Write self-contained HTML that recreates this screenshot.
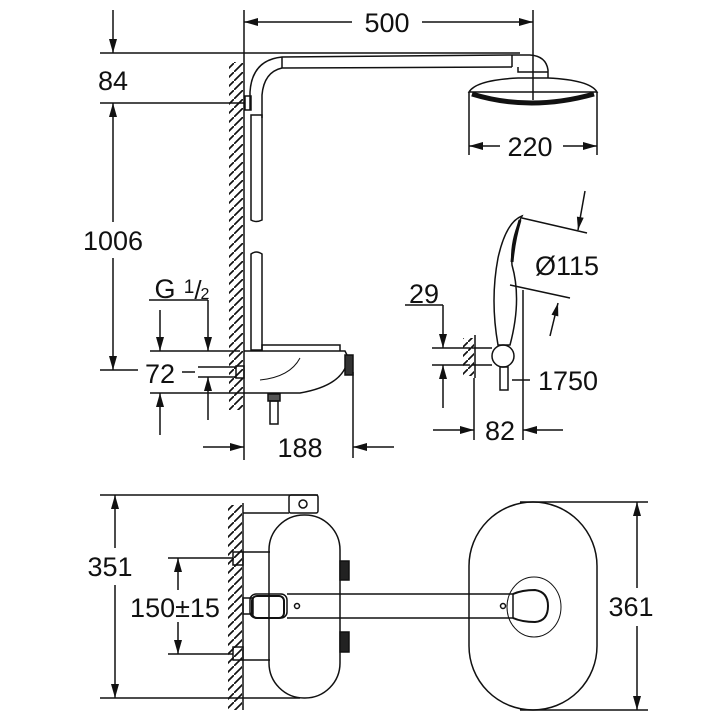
<!DOCTYPE html>
<html><head><meta charset="utf-8"><style>
html,body{margin:0;padding:0;background:#fff;width:720px;height:720px;overflow:hidden}
text{font-family:"Liberation Sans",sans-serif;fill:#111}
</style></head><body>
<svg width="720" height="720" viewBox="0 0 720 720" xmlns="http://www.w3.org/2000/svg">
<defs>
<pattern id="h" width="9" height="9" patternUnits="userSpaceOnUse"><path d="M-2,11 L11,-2" stroke="#111" stroke-width="1.7"/></pattern>
</defs>
<g stroke="#111" stroke-width="1.5" fill="none">
<!-- top wall -->
<line x1="244" y1="10" x2="244" y2="460"/>
<rect x="229" y="62" width="14" height="348" fill="url(#h)" stroke="none"/>
<!-- 500 -->
<line x1="244" y1="22" x2="352" y2="22"/>
<line x1="422" y1="22" x2="533" y2="22"/>
<line x1="533" y1="10" x2="533" y2="100"/>
<!-- 84 / 1006 -->
<line x1="100" y1="53" x2="520" y2="53"/>
<line x1="100" y1="103" x2="244" y2="103"/>
<line x1="113" y1="10" x2="113" y2="53"/>
<line x1="113" y1="103" x2="113" y2="222"/>
<line x1="113" y1="258" x2="113" y2="370"/>
<line x1="100" y1="370" x2="138" y2="370"/>
<!-- riser & arm -->
<path d="M250,110 L250,92 Q252,60 282,57 L512,55 L530,55 Q546,56 548,70 L548,78 M262,118 L262,95 Q264,72 282,68 L512,67"/>
<line x1="282" y1="57" x2="282" y2="68"/>
<line x1="512" y1="55" x2="512" y2="67"/>
<path d="M518,67 L518,72 L548,72"/>
<rect x="245" y="96" width="6" height="14"/>
<path d="M251,115 L251,220 Q256,223 262,220 L262,115 Z"/>
<path d="M251,254 Q256,250 262,254 L262,350 L251,350 Z"/>
<!-- head -->
<path d="M518,78 L548,78 Q590,80 597,92 L469,92 Q476,80 518,78 Z"/>
<path d="M472,94 Q530,112 594,94" stroke-width="5"/>
<line x1="469" y1="92" x2="469" y2="155"/>
<line x1="597" y1="92" x2="597" y2="155"/>
<line x1="469" y1="146" x2="500" y2="146"/>
<line x1="563" y1="146" x2="597" y2="146"/>
<!-- thermostat top -->
<path d="M244,351 L345,351 L348,357 Q346,385 300,393 L244,393"/>
<path d="M262,351 L262,345 L340,345 L340,351"/>
<path d="M300,358 Q290,377 260,380" stroke-width="1"/>
<rect x="345" y="355" width="8" height="20" fill="#333"/>
<rect x="236" y="366" width="8" height="12"/>
<line x1="198" y1="367" x2="236" y2="367"/><line x1="198" y1="377" x2="236" y2="377"/>
<rect x="268" y="394" width="12" height="7" fill="#555"/>
<rect x="270" y="401" width="8" height="23"/>
<!-- G1/2 & 72 -->
<line x1="149" y1="300" x2="208" y2="300"/>
<line x1="208" y1="300" x2="208" y2="351"/>
<line x1="150" y1="351" x2="240" y2="351"/>
<line x1="150" y1="393" x2="244" y2="393"/>
<line x1="160" y1="310" x2="160" y2="351"/>
<line x1="160" y1="435" x2="160" y2="393"/>
<line x1="208" y1="420" x2="208" y2="377"/>
<line x1="182" y1="372" x2="195" y2="372"/>
<!-- 188 -->
<line x1="353" y1="372" x2="353" y2="458"/>
<line x1="203" y1="447" x2="244" y2="447"/>
<line x1="394" y1="447" x2="353" y2="447"/>
<!-- hand shower -->
<path d="M498,345 Q490,300 498,258 Q506,222 522,216 Q510,240 512,265 Q522,300 510,345 Z"/>
<path d="M520,220 Q514,240 512,262" stroke-width="3"/>
<circle cx="503" cy="356" r="11"/>
<rect x="500" y="367" width="8" height="23"/>
<line x1="472" y1="348" x2="492" y2="348"/><line x1="472" y1="365" x2="492" y2="365"/>
<line x1="475" y1="335" x2="475" y2="378"/>
<rect x="463" y="338" width="11" height="38" fill="url(#h)" stroke="none"/>
<line x1="522" y1="218" x2="587" y2="233"/>
<line x1="510" y1="285" x2="570" y2="298"/>
<line x1="585" y1="191" x2="578" y2="230"/>
<line x1="550" y1="336" x2="558" y2="303"/>
<line x1="405" y1="305" x2="443" y2="305"/>
<line x1="443" y1="305" x2="443" y2="348"/>
<line x1="432" y1="348" x2="470" y2="348"/><line x1="432" y1="365" x2="470" y2="365"/>
<line x1="443" y1="408" x2="443" y2="365"/>
<line x1="512" y1="380" x2="530" y2="380"/>
<line x1="523" y1="290" x2="523" y2="440"/>
<line x1="474" y1="378" x2="474" y2="440"/>
<line x1="433" y1="430" x2="474" y2="430"/>
<line x1="563" y1="430" x2="523" y2="430"/>
<!-- bottom view -->
<line x1="243" y1="503" x2="243" y2="710"/>
<rect x="228" y="505" width="14" height="205" fill="url(#h)" stroke="none"/>
<line x1="100" y1="495" x2="318" y2="495"/>
<line x1="100" y1="698" x2="300" y2="698"/>
<line x1="115" y1="495" x2="115" y2="548"/>
<line x1="115" y1="585" x2="115" y2="698"/>
<line x1="243" y1="513" x2="289" y2="513"/>
<rect x="289" y="495" width="29" height="18" rx="2"/>
<circle cx="303" cy="504" r="4"/>
<rect x="269" y="515" width="71" height="183" rx="35"/>
<rect x="340" y="561" width="9" height="19" fill="#222"/>
<rect x="340" y="632" width="9" height="20" fill="#222"/>
<rect x="233" y="552" width="10" height="13"/><rect x="233" y="647" width="10" height="13"/>
<line x1="243" y1="552" x2="270" y2="552"/><line x1="243" y1="660" x2="270" y2="660"/>
<line x1="168" y1="558" x2="233" y2="558"/><line x1="168" y1="654" x2="233" y2="654"/>
<line x1="178" y1="558" x2="178" y2="590"/>
<line x1="178" y1="622" x2="178" y2="654"/>
<rect x="243" y="598" width="10" height="16"/>
<rect x="252" y="596" width="32" height="22" rx="5" stroke-width="2"/>
<rect x="250" y="594" width="37" height="24" rx="6"/>
<path d="M287,594 L513,594 L513,618 L287,618"/>
<circle cx="297" cy="606" r="2.5"/><circle cx="503" cy="606" r="2.5"/>
<rect x="469" y="502" width="128" height="208" rx="64"/>
<ellipse cx="534" cy="607" rx="27" ry="30" stroke-width="1"/>
<path d="M513,594 Q522,590 535,590 Q548,592 548,606 Q548,621 535,622 Q522,622 513,618" stroke-width="2"/>
<line x1="520" y1="502" x2="648" y2="502"/><line x1="520" y1="710" x2="648" y2="710"/>
<line x1="637" y1="502" x2="637" y2="588"/>
<line x1="637" y1="626" x2="637" y2="710"/>
</g>
<g fill="#111" stroke="none">
<path d="M244,22 l14,-4 v8z"/><path d="M533,22 l-14,-4 v8z"/>
<path d="M113,53 l-4,-14 h8z"/><path d="M113,103 l-4,14 h8z"/>
<path d="M113,370 l-4,-14 h8z"/>
<path d="M469,146 l14,-4 v8z"/><path d="M597,146 l-14,-4 v8z"/>
<path d="M208,351 l-4,-14 h8z"/><path d="M160,351 l-4,-14 h8z"/>
<path d="M160,393 l-4,14 h8z"/><path d="M208,377 l-4,14 h8z"/>
<path d="M244,447 l-14,-4 v8z"/><path d="M353,447 l14,-4 v8z"/>
<path d="M578,230 L583.7,217.8 L576.9,216.6Z"/>
<path d="M558,303 L558.3,316.4 L551.5,314.8Z"/>
<path d="M443,348 l-4,-14 h8z"/><path d="M443,365 l-4,14 h8z"/>
<path d="M474,430 l-14,-4 v8z"/><path d="M523,430 l14,-4 v8z"/>
<path d="M115,495 l-4,14 h8z"/><path d="M115,698 l-4,-14 h8z"/>
<path d="M178,558 l-4,14 h8z"/><path d="M178,654 l-4,-14 h8z"/>
<path d="M637,502 l-4,14 h8z"/><path d="M637,710 l-4,-14 h8z"/>
</g>
<g font-size="27" text-anchor="middle">
<text x="387" y="32">500</text>
<text x="113" y="90">84</text>
<text x="113" y="250">1006</text>
<text x="530" y="156">220</text>
<text x="567" y="275">Ø115</text>
<text x="424" y="303">29</text>
<text x="568" y="390">1750</text>
<text x="500" y="440">82</text>
<text x="160" y="383">72</text>
<text x="300" y="457">188</text>
<text x="165" y="298">G</text>
<text x="189" y="293" font-size="19">1</text>
<text x="198" y="299" font-size="26">/</text>
<text x="205" y="299" font-size="16">2</text>
<text x="110" y="576">351</text>
<text x="175" y="617">150±15</text>
<text x="631" y="616">361</text>
</g>
</svg>
</body></html>
